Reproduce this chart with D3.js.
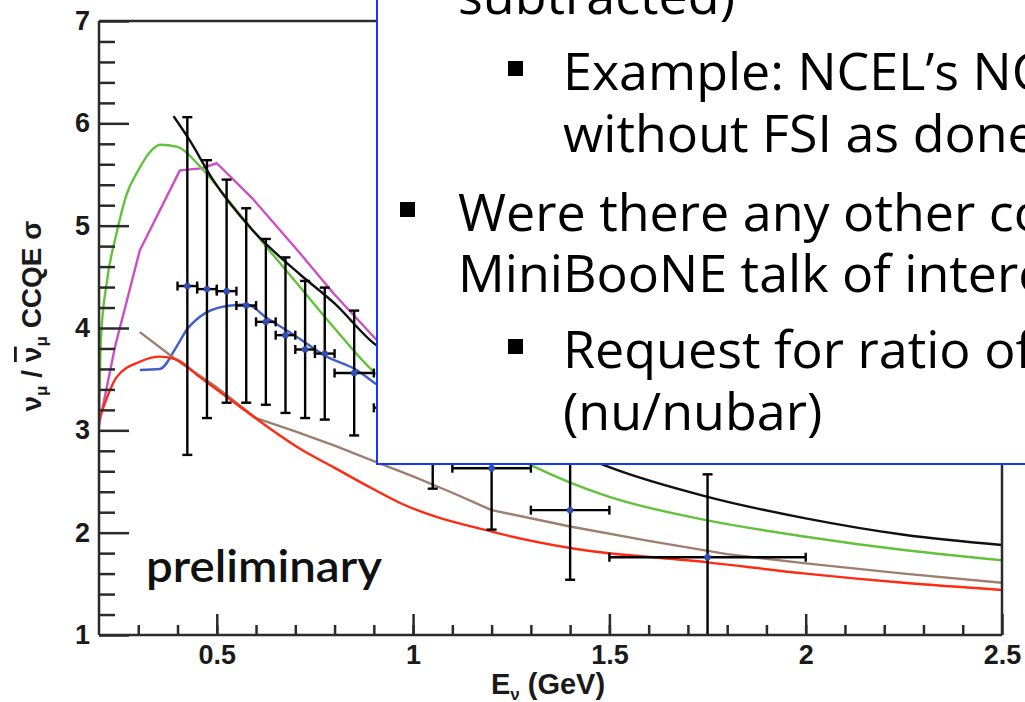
<!DOCTYPE html>
<html>
<head>
<meta charset="utf-8">
<script src="https://cdn.jsdelivr.net/npm/d3@7/dist/d3.min.js"></script>
<style>
  html, body { margin: 0; padding: 0; background: #fff; }
  svg { display: block; }
</style>
</head>
<body>
<svg id="chart" width="1025" height="702"></svg>
<script>
// ---- measured ratio (points with bin widths and errors) ----
const dataEnergy   = [0.425, 0.475, 0.525, 0.575, 0.625, 0.675, 0.725, 0.775, 0.85, 0.95, 1.05, 1.2, 1.4, 1.75];
const dataHalfBin  = [0.025, 0.025, 0.025, 0.025, 0.025, 0.025, 0.025, 0.025, 0.05, 0.05, 0.05, 0.1, 0.1, 0.25];
const dataRatio    = [4.41, 4.38, 4.36, 4.22, 4.06, 3.93, 3.79, 3.75, 3.56, 3.22, 2.95, 2.63, 2.22, 1.76];
const dataError    = [1.65, 1.26, 1.09, 0.95, 0.81, 0.76, 0.67, 0.645, 0.61, 0.50, 0.52, 0.60, 0.68, 0.81];

// ---- model curves: [E (GeV), ratio] ----
const curveMagenta = [[0.2,3.05],[0.241,3.82],[0.304,4.76],[0.406,5.54],[0.46,5.56],[0.50,5.61],[0.59,5.27],[0.712,4.73],[0.797,4.34],[0.903,3.90],[1.0,3.62]];
const curveBlue    = [[0.304,3.59],[0.355,3.60],[0.398,3.82],[0.423,3.98],[0.457,4.11],[0.525,4.215],[0.576,4.23],[0.627,4.10],[0.703,3.915],[0.78,3.72],[0.856,3.59],[0.903,3.46],[1.0,3.25]];
const curveBrown   = [[0.304,3.96],[0.40,3.68],[0.50,3.42],[0.60,3.12],[0.70,2.99],[0.80,2.85],[0.90,2.70],[1.0,2.55],[1.1,2.39],[1.2,2.22],[1.4,2.06],[1.6,1.92],[1.8,1.79],[2.0,1.70],[2.25,1.60],[2.5,1.51]];
const curveRed     = [[0.2,3.1],[0.245,3.52],[0.304,3.67],[0.355,3.72],[0.398,3.69],[0.457,3.52],[0.542,3.28],[0.627,3.04],[0.712,2.82],[0.797,2.64],[0.882,2.46],[0.967,2.29],[1.2,2.01],[1.4,1.85],[1.75,1.71],[2.0,1.60],[2.25,1.51],[2.5,1.44]];
const curveGreen   = [[0.2,3.1],[0.205,3.9],[0.22,4.45],[0.245,4.93],[0.27,5.3],[0.30,5.54],[0.33,5.72],[0.355,5.79],[0.40,5.77],[0.457,5.58],[0.542,5.19],[0.627,4.79],[0.712,4.40],[0.797,4.01],[0.903,3.56],[1.0,3.30],[1.1,3.07],[1.2,2.86],[1.3,2.66],[1.4,2.49],[1.5,2.35],[1.75,2.12],[2.0,1.96],[2.25,1.83],[2.5,1.73]];
const curveBlack   = [[0.39,6.07],[0.43,5.84],[0.49,5.45],[0.59,4.96],[0.71,4.53],[0.80,4.24],[0.90,3.85],[1.0,3.62],[1.1,3.38],[1.2,3.17],[1.3,2.98],[1.4,2.80],[1.5,2.64],[1.75,2.35],[2.0,2.14],[2.25,1.98],[2.5,1.88]];

// ---- axis ticks ----
const xMajorTicks = [0.5, 1, 1.5, 2, 2.5];
const xTickLabels = ["0.5", "1", "1.5", "2", "2.5"];
const yMajorTicks = [1, 2, 3, 4, 5, 6, 7];

// ---- overlaid slide text ----
const slideLines = [
  { text: "subtracted)",              level: 1, bullet: false },
  { text: "Example: NCEL\u2019s NC",  level: 2, bullet: true  },
  { text: "without FSI as done",      level: 2, bullet: false },
  { text: "Were there any other co",  level: 1, bullet: true  },
  { text: "MiniBooNE talk of intere", level: 1, bullet: false },
  { text: "Request for ratio of",     level: 2, bullet: true  },
  { text: "(nu/nubar)",               level: 2, bullet: false }
];
const slideBaselines = [14, 90, 152, 231, 292, 368, 430];

const svg = d3.select("#chart");
const W = 1025, H = 702;
const frame = { left: 99, right: 1002, top: 21, bottom: 635 };

const x = d3.scaleLinear().domain([0.2, 2.5]).range([frame.left, frame.right]);
const y = d3.scaleLinear().domain([1, 7]).range([frame.bottom, frame.top]);

const axisColor = "#2b2b2b";
const tickFont = "'Liberation Sans', Arial, Helvetica, sans-serif";

// clip for the plotting region
svg.append("defs").append("clipPath").attr("id", "plotClip")
  .append("rect")
  .attr("x", frame.left).attr("y", frame.top)
  .attr("width", frame.right - frame.left).attr("height", frame.bottom - frame.top);

const plot = svg.append("g").attr("clip-path", "url(#plotClip)");

// model curves
const line = d3.line().x(d => x(d[0])).y(d => y(d[1]));
const curves = [
  { pts: curveMagenta, color: "#cc4fc4", curve: d3.curveLinear },
  { pts: curveBlue,    color: "#3f5fcc", curve: d3.curveMonotoneX },
  { pts: curveBrown,   color: "#9e7e6e", curve: d3.curveLinear },
  { pts: curveRed,     color: "#ff2a10", curve: d3.curveMonotoneX },
  { pts: curveGreen,   color: "#62c23a", curve: d3.curveMonotoneX },
  { pts: curveBlack,   color: "#111111", curve: d3.curveMonotoneX }
];
curves.forEach(c => {
  plot.append("path")
    .attr("d", line.curve(c.curve)(c.pts))
    .attr("fill", "none")
    .attr("stroke", c.color)
    .attr("stroke-width", 2.4)
    .attr("stroke-linejoin", "round");
});

// data points with error bars
const pts = dataEnergy.map((e, i) => ({ e, hw: dataHalfBin[i], v: dataRatio[i], err: dataError[i] }));
const eb = plot.append("g").attr("stroke", "#000").attr("stroke-width", 2.4).attr("fill", "none");
const capV = 5, capH = 4.5;
pts.forEach(p => {
  const cx = x(p.e), cy = y(p.v);
  const yTop = y(p.v + p.err), yBot = y(p.v - p.err);
  const xL = x(p.e - p.hw), xR = x(p.e + p.hw);
  eb.append("line").attr("x1", cx).attr("x2", cx).attr("y1", yTop).attr("y2", yBot);
  eb.append("line").attr("x1", cx - capV).attr("x2", cx + capV).attr("y1", yTop).attr("y2", yTop);
  eb.append("line").attr("x1", cx - capV).attr("x2", cx + capV).attr("y1", yBot).attr("y2", yBot);
  eb.append("line").attr("x1", xL).attr("x2", xR).attr("y1", cy).attr("y2", cy);
  eb.append("line").attr("x1", xL).attr("x2", xL).attr("y1", cy - capH).attr("y2", cy + capH);
  eb.append("line").attr("x1", xR).attr("x2", xR).attr("y1", cy - capH).attr("y2", cy + capH);
});
plot.append("g").selectAll("circle").data(pts).join("circle")
  .attr("cx", d => x(d.e)).attr("cy", d => y(d.v)).attr("r", 3.2)
  .attr("fill", "#3050b8");

// frame (top and right edges)
svg.append("line").attr("x1", frame.left).attr("x2", frame.right).attr("y1", frame.top).attr("y2", frame.top)
  .attr("stroke", axisColor).attr("stroke-width", 2.5);
svg.append("line").attr("x1", frame.right).attr("x2", frame.right).attr("y1", frame.top).attr("y2", frame.bottom)
  .attr("stroke", axisColor).attr("stroke-width", 2.5);

// x axis: minor then major ticks
const xMinor = d3.range(3, 25).map(k => k / 10);
svg.append("g").attr("transform", `translate(0,${frame.bottom})`)
  .call(d3.axisBottom(x).tickValues(xMinor).tickSizeInner(-10).tickSizeOuter(0).tickFormat(""))
  .call(g => g.select(".domain").remove());
const xAxis = svg.append("g").attr("transform", `translate(0,${frame.bottom})`)
  .call(d3.axisBottom(x).tickValues(xMajorTicks).tickSizeInner(-21).tickSizeOuter(0)
        .tickPadding(10).tickFormat((d, i) => xTickLabels[i]));
xAxis.select(".domain").attr("d", `M${frame.left},0H${frame.right}`);

// y axis: minor then major ticks
const yMinor = d3.range(6, 35).map(k => k / 5).filter(v => Math.abs(v - Math.round(v)) > 1e-6);
svg.append("g").attr("transform", `translate(${frame.left},0)`)
  .call(d3.axisLeft(y).tickValues(yMinor).tickSizeInner(-16).tickSizeOuter(0).tickFormat(""))
  .call(g => g.select(".domain").remove());
const yAxis = svg.append("g").attr("transform", `translate(${frame.left},0)`)
  .call(d3.axisLeft(y).tickValues(yMajorTicks).tickSizeInner(-30).tickSizeOuter(0)
        .tickPadding(9).tickFormat(d3.format("d")));
yAxis.select(".domain").attr("d", `M0,${frame.top}V${frame.bottom}`);

svg.selectAll(".tick line").attr("stroke", axisColor).attr("stroke-width", 2.5);
svg.selectAll(".domain").attr("stroke", axisColor).attr("stroke-width", 2.5);
svg.selectAll(".tick text")
  .attr("font-family", tickFont).attr("font-weight", "bold").attr("font-size", 27).attr("fill", "#1a1a1a");

// axis titles
const xTitle = svg.append("text")
  .attr("x", 548).attr("y", 694).attr("text-anchor", "middle")
  .attr("font-family", tickFont).attr("font-weight", "bold").attr("font-size", 29).attr("fill", "#1a1a1a");
xTitle.append("tspan").text("E");
xTitle.append("tspan").attr("font-size", 17).attr("dy", 6).text("\u03bd");
xTitle.append("tspan").attr("dy", -6).text(" (GeV)");

const yTitle = svg.append("text")
  .attr("transform", "translate(41,316) rotate(-90)")
  .attr("text-anchor", "middle")
  .attr("font-family", tickFont).attr("font-weight", "bold").attr("font-size", 28).attr("fill", "#1a1a1a");
yTitle.append("tspan").text("\u03bd");
yTitle.append("tspan").attr("font-size", 17).attr("dy", 6).text("\u03bc");
yTitle.append("tspan").attr("dy", -6).text(" / ");
yTitle.append("tspan").attr("text-decoration", "overline").text("\u03bd");
yTitle.append("tspan").attr("font-size", 17).attr("dy", 6).text("\u03bc");
yTitle.append("tspan").attr("dy", -6).text(" CCQE \u03c3");

// preliminary tag
svg.append("text")
  .attr("x", 146).attr("y", 582)
  .attr("font-family", "Lato, 'Open Sans', sans-serif").attr("font-weight", 600).attr("font-size", 44)
  .attr("textLength", 236).attr("lengthAdjust", "spacingAndGlyphs")
  .attr("fill", "#111").text("preliminary");

// slide text panel on top
const panel = svg.append("g");
panel.append("rect")
  .attr("x", 377).attr("y", -10).attr("width", W - 377 + 20).attr("height", 464 + 10)
  .attr("fill", "#fff").attr("stroke", "#1438ff").attr("stroke-width", 2);
const textX = { 1: 458, 2: 563 };
const bulletX = { 1: 400, 2: 508 };
slideLines.forEach((ln, i) => {
  const base = slideBaselines[i];
  if (ln.bullet) {
    panel.append("rect")
      .attr("x", bulletX[ln.level]).attr("y", base - 29)
      .attr("width", 15).attr("height", 15).attr("fill", "#000");
  }
  panel.append("text")
    .attr("x", textX[ln.level]).attr("y", base)
    .attr("font-family", "'Open Sans', sans-serif").attr("font-size", 52)
    .attr("fill", "#000").text(ln.text);
});
</script>
</body>
</html>
